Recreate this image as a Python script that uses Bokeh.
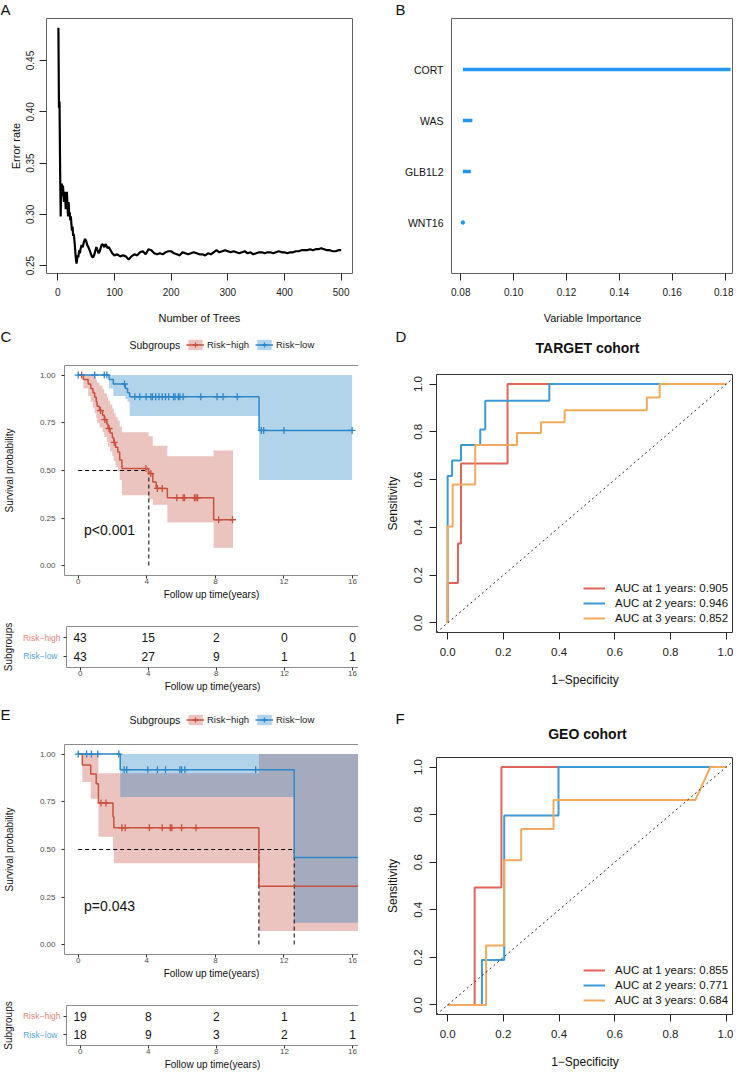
import bisect
from bokeh.plotting import figure
from bokeh.layouts import row, column
from bokeh.models import (Range1d, FixedTicker, Legend, LegendItem, Slope, LinearAxis, Plot)
from bokeh.embed import file_html
from bokeh.resources import INLINE
from bokeh.core.properties import value

FONT = "Liberation Sans"

# ---------------- A: random forest error rate ----------------
trees = list(range(1, 41)) + list(range(42, 101, 2)) + list(range(105, 501, 5))
error_rate = [
    0.482, 0.404, 0.410, 0.345, 0.298, 0.325, 0.330, 0.318, 0.328, 0.320,
    0.312, 0.322, 0.316, 0.305, 0.312, 0.322, 0.310, 0.298, 0.312, 0.300,
    0.302, 0.294, 0.298, 0.290, 0.284, 0.288, 0.279, 0.281, 0.276, 0.270,
    0.262, 0.256, 0.252, 0.256, 0.260, 0.258, 0.262, 0.265, 0.262, 0.266,
    0.270, 0.268, 0.273, 0.276, 0.274, 0.270, 0.268, 0.265, 0.262, 0.259,
    0.258, 0.260, 0.264, 0.268, 0.265, 0.262, 0.264, 0.268, 0.271, 0.270,
    0.268, 0.271, 0.269, 0.267, 0.268, 0.266, 0.264, 0.262, 0.261, 0.260,
    0.261, 0.259, 0.260, 0.259, 0.256, 0.259, 0.261, 0.260, 0.263, 0.264,
    0.261, 0.266, 0.265, 0.262, 0.261, 0.262, 0.261, 0.263, 0.264, 0.264,
    0.262, 0.261, 0.260, 0.263, 0.262, 0.261, 0.262, 0.263, 0.262, 0.261,
    0.261, 0.260, 0.262, 0.261, 0.263, 0.265, 0.263, 0.264, 0.265, 0.264,
    0.263, 0.264, 0.263, 0.262, 0.263, 0.264, 0.262, 0.263, 0.261, 0.262,
    0.263, 0.263, 0.262, 0.263, 0.263, 0.262, 0.263, 0.264, 0.263, 0.263,
    0.262, 0.263, 0.263, 0.264, 0.264, 0.265, 0.265, 0.265, 0.266, 0.265,
    0.266, 0.266, 0.267, 0.266, 0.265, 0.265, 0.264, 0.264, 0.265, 0.265,
]
a_xticks = [0, 100, 200, 300, 400, 500]
a_yticks = [0.25, 0.30, 0.35, 0.40, 0.45]
a_ytick_labels = ["0.25", "0.30", "0.35", "0.40", "0.45"]

# ---------------- B: variable importance ----------------
genes = ["CORT", "WAS", "GLB1L2", "WNT16"]
importance = [0.1821, 0.0844, 0.0838, 0.0808]
b_xticks = [0.08, 0.10, 0.12, 0.14, 0.16, 0.18]
b_xtick_labels = ["0.08", "0.10", "0.12", "0.14", "0.16", "0.18"]

# ---------------- C: KM TARGET ----------------
c_high_t = [0, 0.30, 0.58, 0.73, 0.86, 0.96, 1.05, 1.10, 1.24, 1.42, 1.52, 1.67, 1.74,
            1.86, 1.99, 2.08, 2.18, 2.31, 2.42, 2.55, 4.10, 4.35, 4.55, 5.20, 7.90]
c_high_s = [1.0, 0.977, 0.953, 0.930, 0.907, 0.884, 0.860, 0.837, 0.814, 0.790, 0.767, 0.744, 0.720,
            0.697, 0.672, 0.647, 0.622, 0.597, 0.555, 0.510, 0.484, 0.440, 0.406, 0.357, 0.242]
c_high_up = [1.0, 1.0, 1.0, 1.0, 1.0, 0.99, 0.975, 0.96, 0.945, 0.925, 0.905, 0.885, 0.865,
             0.845, 0.825, 0.80, 0.78, 0.76, 0.73, 0.70, 0.68, 0.63, 0.63, 0.575, 0.605]
c_high_lo = [1.0, 0.93, 0.89, 0.86, 0.83, 0.80, 0.775, 0.75, 0.725, 0.70, 0.675, 0.65, 0.625,
             0.60, 0.575, 0.55, 0.52, 0.495, 0.45, 0.37, 0.35, 0.32, 0.32, 0.228, 0.095]
c_high_end = 9.03
c_high_cens = [0.2, 1.3, 1.55, 1.8, 2.1, 3.95, 4.24, 4.62, 4.9, 5.75, 6.12, 6.2, 6.78,
               6.87, 6.96, 8.19, 9.0]
c_low_t = [0, 1.80, 2.05, 2.75, 2.88, 3.00, 10.55]
c_low_s = [1.0, 0.977, 0.953, 0.930, 0.907, 0.886, 0.710]
c_low_up = [1.0, 1.0, 1.0, 1.0, 1.0, 1.0, 1.0]
c_low_lo = [1.0, 0.93, 0.89, 0.875, 0.86, 0.785, 0.45]
c_low_end = 15.98
c_low_cens = [0, 0.96, 1.52, 1.67, 2.70, 3.3, 3.59, 3.96, 4.24, 4.33, 4.52, 4.71, 4.9, 5.09,
              5.28, 5.56, 5.65, 5.84, 5.93, 6.12, 7.15, 8.1, 8.45, 9.28, 10.68, 10.82, 12.0, 15.98]
c_medians = [4.12]
c_pval = "p<0.001"
c_pval_pos = (0.34, 0.19)

# ---------------- E: KM GEO ----------------
e_high_t = [0, 0.24, 0.73, 1.05, 1.18, 2.03, 2.08, 10.54]
e_high_s = [1.0, 0.943, 0.896, 0.844, 0.744, 0.670, 0.614, 0.307]
e_high_up = [1.0, 1.0, 1.0, 1.0, 0.90, 0.90, 0.90, 1.0]
e_high_lo = [1.0, 0.853, 0.766, 0.766, 0.567, 0.50, 0.428, 0.073]
e_high_end = 16.6
e_high_cens = [1.33, 1.62, 2.55, 2.74, 4.15, 4.9, 5.37, 5.46, 6.03, 6.87, 16.4]
e_low_t = [0, 2.45, 12.6]
e_low_s = [1.0, 0.918, 0.458]
e_low_up = [1.0, 1.0, 1.0]
e_low_lo = [1.0, 0.775, 0.116]
e_low_end = 16.6
e_low_cens = [0, 0.49, 0.77, 1.14, 2.37, 2.68, 2.83, 4.06, 4.62, 5.09, 5.93, 6.03, 6.22, 10.35, 16.6]
e_medians = [10.54, 12.6]
e_pval = "p=0.043"
e_pval_pos = (0.34, 0.205)

# ---------------- risk tables ----------------
risk_times = [0, 4, 8, 12, 16]
c_risk_high = [43, 15, 2, 0, 0]
c_risk_low = [43, 27, 9, 1, 1]
e_risk_high = [19, 8, 2, 1, 1]
e_risk_low = [18, 9, 3, 2, 1]
km_xticks = [0, 4, 8, 12, 16]
km_yticks = [0, 0.25, 0.5, 0.75, 1.0]
km_ytick_labels = ["0.00", "0.25", "0.50", "0.75", "1.00"]
group_labels = ["Risk\u2212high", "Risk\u2212low"]
legend_title = "Subgroups"

# ---------------- D: ROC TARGET ----------------
d_fpr_1 = [0, 0, 0.037, 0.037, 0.048, 0.048, 0.215, 0.215, 1.0]
d_tpr_1 = [0, 0.167, 0.167, 0.333, 0.333, 0.667, 0.667, 1.0, 1.0]
d_fpr_2 = [0, 0, 0.016, 0.016, 0.048, 0.048, 0.117, 0.117, 0.135, 0.135, 0.365, 0.365, 1.0]
d_tpr_2 = [0, 0.615, 0.615, 0.68, 0.68, 0.745, 0.745, 0.81, 0.81, 0.93, 0.93, 1.0, 1.0]
d_fpr_3 = [0, 0, 0.018, 0.018, 0.099, 0.099, 0.249, 0.249, 0.335, 0.335, 0.42, 0.42,
           0.715, 0.715, 0.761, 0.761, 1.0]
d_tpr_3 = [0, 0.404, 0.404, 0.58, 0.58, 0.745, 0.745, 0.795, 0.795, 0.84, 0.84, 0.89,
           0.89, 0.944, 0.944, 1.0, 1.0]
d_labels = ["AUC at 1 years: 0.905", "AUC at 2 years: 0.946", "AUC at 3 years: 0.852"]

# ---------------- F: ROC GEO ----------------
f_fpr_1 = [0, 0.097, 0.097, 0.193, 0.193, 1.0]
f_tpr_1 = [0, 0, 0.494, 0.494, 1.0, 1.0]
f_fpr_2 = [0, 0.123, 0.123, 0.203, 0.203, 0.398, 0.398, 1.0]
f_tpr_2 = [0, 0, 0.189, 0.189, 0.796, 0.796, 1.0, 1.0]
f_fpr_3 = [0, 0.138, 0.138, 0.203, 0.203, 0.264, 0.264, 0.380, 0.380, 0.889, 0.943, 1.0]
f_tpr_3 = [0, 0, 0.25, 0.25, 0.608, 0.608, 0.740, 0.740, 0.861, 0.861, 1.0, 1.0]
f_labels = ["AUC at 1 years: 0.855", "AUC at 2 years: 0.771", "AUC at 3 years: 0.684"]
roc_ticks = [0, 0.2, 0.4, 0.6, 0.8, 1.0]
roc_tick_labels = ["0.0", "0.2", "0.4", "0.6", "0.8", "1.0"]

# ---------------- styles ----------------
RED_LINE = "#C8503C"
BLUE_LINE = "#2E86C8"
RED_FILL = "#BC3A2D"
BLUE_FILL = "#0070BC"
RED_TXT = "#E0877B"
BLUE_TXT = "#5AA6DC"
ROC_COLORS = ["#E0645A", "#3D9AD6", "#F2AA5E"]
IMP_BLUE = "#2196F3"
KM_BORDER = "#8C8C8C"
LEFT_W, RIGHT_W = 358, 375

# keep each plot's own borders (no frame alignment between stacked plots)
EXTRA = {"frame_align": False} if "frame_align" in Plot.properties() else {}


def new_fig(w, h, xr, yr, ml, mr, mt, mb, outline="#606060"):
    p = figure(width=w, height=h, x_range=Range1d(*xr), y_range=Range1d(*yr),
               output_backend="svg", toolbar_location=None,
               min_border_left=ml, min_border_right=mr, min_border_top=mt, min_border_bottom=mb,
               **EXTRA)
    p.xgrid.visible = False
    p.ygrid.visible = False
    p.outline_line_color = outline
    p.outline_line_width = 1
    p.background_fill_color = "white"
    p.border_fill_color = "white"
    return p


def header(w, h):
    """Strip without axes whose frame is the whole canvas (pixel ranges), holding the
    panel letters, titles and legends that sit above a plot."""
    p = figure(width=w, height=h, x_range=Range1d(0, w), y_range=Range1d(0, h),
               x_axis_type=None, y_axis_type=None, output_backend="svg", toolbar_location=None,
               min_border=0, min_border_left=0, min_border_right=0, min_border_top=0,
               min_border_bottom=0, **EXTRA)
    p.outline_line_color = None
    p.xgrid.visible = False
    p.ygrid.visible = False
    p.background_fill_color = "white"
    p.border_fill_color = "white"
    return p


def head_text(p, x, y, text, size, align="left", baseline="middle", bold=False):
    p.text(x=[x], y=[y], text=[text], text_font=value(FONT), text_font_size=size,
           text_align=align, text_baseline=baseline, text_color="#111111",
           text_font_style="bold" if bold else "normal")


def style_axis(ax, size, color, tick_out, standoff, title_size, title_standoff, tick_color=None, title_color=None):
    ax.major_label_text_font = FONT
    ax.major_label_text_font_size = size
    ax.major_label_text_color = color
    ax.major_tick_in = 0
    ax.major_tick_out = tick_out
    ax.major_tick_line_color = tick_color or color
    ax.minor_tick_line_color = None
    ax.axis_line_color = None
    ax.major_label_standoff = standoff
    ax.axis_label_text_font = FONT
    ax.axis_label_text_font_size = title_size
    ax.axis_label_text_font_style = "normal"
    ax.axis_label_text_color = title_color or "#111111"
    ax.axis_label_standoff = title_standoff


def open_right_border(p):
    """Panel border on the left, top and bottom only (the right edge runs off the page)."""
    p.outline_line_color = None
    p.xaxis[0].axis_line_color = KM_BORDER
    p.yaxis[0].axis_line_color = KM_BORDER
    top = LinearAxis(ticker=FixedTicker(ticks=[]), major_tick_out=0, major_tick_in=0,
                     minor_tick_out=0, minor_tick_in=0, major_label_standoff=0,
                     axis_line_color=KM_BORDER)
    p.add_layout(top, "above")


def step_band(times, lo, hi, t_end):
    xs, y1, y2 = [], [], []
    for i, t in enumerate(times):
        t_next = times[i + 1] if i + 1 < len(times) else t_end
        xs += [t, t_next]
        y1 += [lo[i], lo[i]]
        y2 += [hi[i], hi[i]]
    return xs, y1, y2


def surv_at(times, surv, t):
    i = bisect.bisect_right(times, t) - 1
    return surv[max(i, 0)]


# ---------------- panel A ----------------
ha = header(LEFT_W, 17)
head_text(ha, 0, 17, "A", "15px", baseline="top")
A_ML = 46
fa = new_fig(LEFT_W, 309, (-20, 520), (0.2423, 0.491), A_ML, 6, 1, 53)
fa.line(trees, error_rate, line_width=2.2, color="black")
fa.xaxis.ticker = FixedTicker(ticks=a_xticks)
fa.yaxis.ticker = FixedTicker(ticks=a_yticks)
fa.yaxis.major_label_overrides = dict(zip(a_yticks, a_ytick_labels))
fa.yaxis.major_label_orientation = "vertical"
fa.xaxis.axis_label = "Number of Trees"
fa.yaxis.axis_label = "Error rate"
style_axis(fa.xaxis[0], "10px", "#222222", 7, 7, "11px", 13)
style_axis(fa.yaxis[0], "10px", "#222222", 7, 5, "11px", 2)

# ---------------- panel B ----------------
hb = header(RIGHT_W, 17)
head_text(hb, 37, 17, "B", "15px", baseline="top")
B_ML = 93
fb = new_fig(RIGHT_W, 309, (0.0765, 0.1832), (0, 5), B_ML, 0, 1, 53)
b_pos = [len(genes) - i for i in range(len(genes))]
b_base = min(importance)
fb.segment(x0=[b_base] * len(genes), y0=b_pos, x1=importance, y1=b_pos, line_width=3.5, color=IMP_BLUE)
zero_x = [v for v in importance if v == b_base]
zero_y = [b_pos[i] for i, v in enumerate(importance) if v == b_base]
fb.scatter(zero_x, zero_y, size=3.5, color=IMP_BLUE)
fb.xaxis.ticker = FixedTicker(ticks=b_xticks)
fb.xaxis.major_label_overrides = dict(zip(b_xticks, b_xtick_labels))
fb.xaxis.axis_label = "Variable Importance"
style_axis(fb.xaxis[0], "10px", "#222222", 7, 7, "11px", 13)
fb.yaxis.ticker = FixedTicker(ticks=b_pos)
fb.yaxis.major_label_overrides = dict(zip(b_pos, genes))
style_axis(fb.yaxis[0], "10.5px", "#111111", 0, 8, "11px", 0)


# ---------------- KM panels ----------------
KM_ML = 61
KM_XR = (-0.8, 16.35)


def km_header(h, letter, letter_y, legend_mid):
    p = header(LEFT_W, h)
    head_text(p, 0, letter_y, letter, "15px")
    head_text(p, 129, legend_mid, legend_title, "10.5px")
    rends = []
    for fill, col in ((RED_FILL, RED_LINE), (BLUE_FILL, BLUE_LINE)):
        # legend-key glyphs only (hidden renderers, drawn in the legend)
        a = p.varea(x=[0, 1], y1=[0, 0], y2=[1, 1], fill_color=fill, fill_alpha=0.3, visible=False)
        ln = p.line(x=[0, 1], y=[0, 0], line_color=col, line_width=1.5, visible=False)
        cr = p.scatter(x=[0], y=[0], marker="cross", size=7, line_color=col, line_width=1.3,
                       visible=False)
        rends.append([a, ln, cr])
    leg = Legend(items=[LegendItem(label=group_labels[0], renderers=rends[0]),
                        LegendItem(label=group_labels[1], renderers=rends[1])],
                 orientation="horizontal", location=(186, legend_mid - 8),
                 padding=0, margin=0, spacing=6,
                 label_standoff=3, glyph_width=18, glyph_height=13, label_height=16,
                 border_line_color=None, background_fill_alpha=0, inactive_fill_alpha=0,
                 label_text_font=FONT, label_text_font_size="9.5px", label_text_color="#222222")
    p.add_layout(leg)
    return p


def km_fig(h, top, fh, bottom, high, low, medians, pval, pval_pos):
    p = new_fig(LEFT_W, h, KM_XR, (-0.05, 1.05), KM_ML, 0, top, bottom, outline=KM_BORDER)
    for (t, s, up, lo, t_end, cens), fill in ((high, RED_FILL), (low, BLUE_FILL)):
        bx, by1, by2 = step_band(t, lo, up, t_end)
        p.varea(x=bx, y1=by1, y2=by2, fill_color=fill, fill_alpha=0.3)
    p.segment(x0=[0], y0=[0.5], x1=[max(medians)], y1=[0.5], line_color="black",
              line_dash="4 3", line_width=1)
    p.segment(x0=medians, y0=[0.5] * len(medians), x1=medians, y1=[0] * len(medians),
              line_color="black", line_dash="4 3", line_width=1)
    for (t, s, up, lo, t_end, cens), col in ((high, RED_LINE), (low, BLUE_LINE)):
        p.step(x=t + [t_end], y=s + [s[-1]], mode="after", line_color=col, line_width=1.5)
        cy = [surv_at(t, s, c) for c in cens]
        p.scatter(cens, cy, marker="cross", size=7, line_color=col, line_width=1.3)
    p.text(x=[pval_pos[0]], y=[pval_pos[1]], text=[pval], text_font=value(FONT),
           text_font_size="14px", text_baseline="middle", text_align="left", text_color="#111111")
    p.xaxis.ticker = FixedTicker(ticks=km_xticks)
    p.yaxis.ticker = FixedTicker(ticks=km_yticks)
    p.yaxis.major_label_overrides = dict(zip(km_yticks, km_ytick_labels))
    p.xaxis.axis_label = "Follow up time(years)"
    p.yaxis.axis_label = "Survival probability"
    style_axis(p.xaxis[0], "8px", "#4D4D4D", 3, 0, "10px", 2, tick_color="#333333")
    style_axis(p.yaxis[0], "8px", "#4D4D4D", 3, 6, "10px", 22, tick_color="#333333")
    open_right_border(p)
    return p


def risk_fig(h, top, fh, bottom, high_counts, low_counts):
    p = new_fig(LEFT_W, h, KM_XR, (0.4, 2.6), KM_ML, 0, top, bottom, outline=KM_BORDER)
    xs = risk_times + risk_times
    ys = [2] * len(risk_times) + [1] * len(risk_times)
    txt = [str(v) for v in high_counts] + [str(v) for v in low_counts]
    p.text(x=xs, y=ys, text=txt, text_font=value(FONT), text_font_size="12px",
           text_align="center", text_baseline="middle", text_color="#111111")
    p.xaxis.ticker = FixedTicker(ticks=km_xticks)
    p.xaxis.axis_label = "Follow up time(years)"
    style_axis(p.xaxis[0], "8px", "#4D4D4D", 3, 0, "10px", 2, tick_color="#333333")
    p.yaxis.ticker = FixedTicker(ticks=[1, 2])
    p.yaxis.major_label_overrides = {1: "", 2: group_labels[0]}
    style_axis(p.yaxis[0], "8.5px", RED_TXT, 3, 3, "10px", 0, tick_color="#333333")
    ax2 = LinearAxis(ticker=FixedTicker(ticks=[1]), major_label_overrides={1: group_labels[1]},
                     axis_label=legend_title)
    style_axis(ax2, "8.5px", BLUE_TXT, 0, -38, "10px", 6)
    p.add_layout(ax2, "left")
    open_right_border(p)
    return p


hc = km_header(38, "C", 28, 20)
fc = km_fig(238, 1, 211, 26,
            (c_high_t, c_high_s, c_high_up, c_high_lo, c_high_end, c_high_cens),
            (c_low_t, c_low_s, c_low_up, c_low_lo, c_low_end, c_low_cens),
            c_medians, c_pval, c_pval_pos)
fct = risk_fig(103, 24, 41, 38, c_risk_high, c_risk_low)
he = km_header(38, "E", 29.5, 24)
fe = km_fig(238, 1, 211, 26,
            (e_high_t, e_high_s, e_high_up, e_high_lo, e_high_end, e_high_cens),
            (e_low_t, e_low_s, e_low_up, e_low_lo, e_low_end, e_low_cens),
            e_medians, e_pval, e_pval_pos)
fet = risk_fig(91, 24, 41, 26, e_risk_high, e_risk_low)

# ---------------- ROC panels ----------------
ROC_ML, ROC_PX = 78, 278.6


def roc_header(h, letter, letter_y, letter_baseline, title, title_y):
    p = header(RIGHT_W, h)
    head_text(p, 37, letter_y, letter, "15px", baseline=letter_baseline)
    head_text(p, 229, title_y, title, "14px", align="center", bold=True)
    return p


def roc_fig(h, top, fh, bottom, curves, labels):
    xr = (-0.04, -0.04 + (RIGHT_W - ROC_ML) / ROC_PX)
    p = new_fig(RIGHT_W, h, xr, (-0.04, 1.04), ROC_ML, 0, top, bottom, outline="#333333")
    p.add_layout(Slope(gradient=1, y_intercept=0, line_color="#333333", line_dash="2 3", line_width=1))
    items = []
    for (fx, ty), col, lab in zip(curves, ROC_COLORS, labels):
        r = p.line(fx, ty, line_color=col, line_width=2)
        items.append(LegendItem(label=lab, renderers=[r]))
    leg = Legend(items=items, location=(147, 7), padding=0, margin=0, spacing=0,
                 glyph_width=22, glyph_height=14, label_height=15, label_standoff=10,
                 border_line_color=None, background_fill_alpha=0,
                 label_text_font=FONT, label_text_font_size="11.5px", label_text_color="#111111")
    p.add_layout(leg)
    p.xaxis.ticker = FixedTicker(ticks=roc_ticks)
    p.yaxis.ticker = FixedTicker(ticks=roc_ticks)
    p.xaxis.major_label_overrides = dict(zip(roc_ticks, roc_tick_labels))
    p.yaxis.major_label_overrides = dict(zip(roc_ticks, roc_tick_labels))
    p.yaxis.major_label_orientation = "vertical"
    p.xaxis.axis_label = "1\u2212Specificity"
    p.yaxis.axis_label = "Sensitivity"
    style_axis(p.xaxis[0], "11.5px", "#222222", 7, 8, "12px", 14)
    style_axis(p.yaxis[0], "11.5px", "#222222", 7, 7, "12px", 12)
    return p


hd = roc_header(47, "D", 46, "top", "TARGET cohort", 26)
fd = roc_fig(316, 1, 258, 57,
             [(d_fpr_1, d_tpr_1), (d_fpr_2, d_tpr_2), (d_fpr_3, d_tpr_3)], d_labels)
hf = roc_header(67, "F", 38.5, "middle", "GEO cohort", 23)
ff = roc_fig(316, 1, 257, 58,
             [(f_fpr_1, f_tpr_1), (f_fpr_2, f_tpr_2), (f_fpr_3, f_tpr_3)], f_labels)

left = column(ha, fa, hc, fc, fct, he, fe, fet, spacing=0)
right = column(hb, fb, hd, fd, hf, ff, spacing=0)
page = row(left, right, spacing=0)

open("out.html", "w").write(file_html(page, INLINE))
